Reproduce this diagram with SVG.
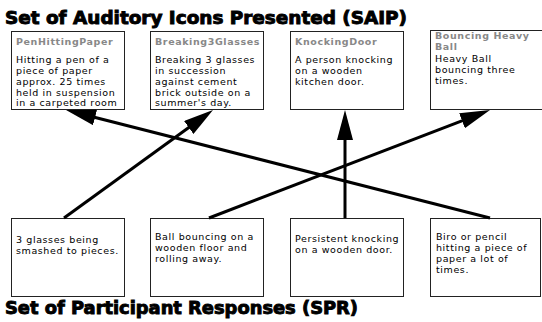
<svg xmlns="http://www.w3.org/2000/svg" width="542" height="322" viewBox="0 0 542 322">
<defs>
<style>
.title{font-family:"DejaVu Sans","Liberation Sans",sans-serif;font-weight:bold;font-size:17px;fill:#000;stroke:#000;stroke-width:0.9px}
.box{fill:#fff;stroke:#222;stroke-width:1}
.hd{font-family:"DejaVu Sans","Liberation Sans",sans-serif;font-weight:bold;font-size:9.5px;fill:#888;letter-spacing:0.6px}
.tx{font-family:"DejaVu Sans","Liberation Sans",sans-serif;font-size:9.5px;fill:#000;letter-spacing:0.6px}
.arr{stroke:#000;stroke-width:3;fill:none;marker-end:url(#ah)}
</style>
<marker id="ah" viewBox="0 0 30 16" refX="18" refY="8" markerWidth="30" markerHeight="16" markerUnits="userSpaceOnUse" orient="auto">
<path d="M0,0 L30,8 L0,16 z" fill="#000"/>
</marker>
</defs>
<rect width="542" height="322" fill="#fff"/>
<text class="title" x="5" y="24" textLength="402" lengthAdjust="spacingAndGlyphs">Set of Auditory Icons Presented (SAIP)</text>
<text class="title" x="5" y="314" textLength="353" lengthAdjust="spacingAndGlyphs">Set of Participant Responses (SPR)</text>

<g id="saip-pen">
<rect class="box" x="11.5" y="31.5" width="113" height="78"/>
<text class="hd" x="16" y="45">PenHittingPaper</text>
<text class="tx" x="16" y="63">Hitting a pen of a</text>
<text class="tx" x="16" y="74">piece of paper</text>
<text class="tx" x="16" y="85">approx. 25 times</text>
<text class="tx" x="16" y="95.5">held in suspension</text>
<text class="tx" x="16" y="106">in a carpeted room</text>
</g>
<g id="saip-glasses">
<rect class="box" x="150.5" y="31.5" width="113" height="78"/>
<text class="hd" x="155" y="45">Breaking3Glasses</text>
<text class="tx" x="155" y="63">Breaking 3 glasses</text>
<text class="tx" x="155" y="74">in succession</text>
<text class="tx" x="155" y="85">against cement</text>
<text class="tx" x="155" y="95.5">brick outside on a</text>
<text class="tx" x="155" y="106">summer's day.</text>
</g>
<g id="saip-door">
<rect class="box" x="290.5" y="31.5" width="113" height="78"/>
<text class="hd" x="295" y="45">KnockingDoor</text>
<text class="tx" x="295" y="63">A person knocking</text>
<text class="tx" x="295" y="74">on a wooden</text>
<text class="tx" x="295" y="85">kitchen door.</text>
</g>
<g id="saip-ball">
<rect class="box" x="430.5" y="30.5" width="113" height="79"/>
<text class="hd" x="435" y="39">Bouncing Heavy</text>
<text class="hd" x="435" y="50">Ball</text>
<text class="tx" x="435" y="62">Heavy Ball</text>
<text class="tx" x="435" y="73">bouncing three</text>
<text class="tx" x="435" y="84">times.</text>
</g>

<g id="spr-glasses">
<rect class="box" x="11.5" y="218.5" width="113" height="78"/>
<text class="tx" x="16" y="243">3 glasses being</text>
<text class="tx" x="16" y="254">smashed to pieces.</text>
</g>
<g id="spr-ball">
<rect class="box" x="150.5" y="218.5" width="113" height="78"/>
<text class="tx" x="155" y="240">Ball bouncing on a</text>
<text class="tx" x="155" y="251">wooden floor and</text>
<text class="tx" x="155" y="262">rolling away.</text>
</g>
<g id="spr-door">
<rect class="box" x="290.5" y="218.5" width="113" height="78"/>
<text class="tx" x="295" y="242">Persistent knocking</text>
<text class="tx" x="295" y="253">on a wooden door.</text>
</g>
<g id="spr-biro">
<rect class="box" x="430.5" y="218.5" width="110" height="78"/>
<text class="tx" x="436" y="240">Biro or pencil</text>
<text class="tx" x="436" y="251">hitting a piece of</text>
<text class="tx" x="436" y="262">paper a lot of</text>
<text class="tx" x="436" y="273">times.</text>
</g>

<g id="connectors">
<line class="arr" x1="490" y1="218" x2="77.6" y2="113"/>
<line class="arr" x1="64" y1="218" x2="203.3" y2="117"/>
<line class="arr" x1="345" y1="218" x2="345" y2="122"/>
<line class="arr" x1="209" y1="218" x2="478.8" y2="114.3"/>
</g>
</svg>
